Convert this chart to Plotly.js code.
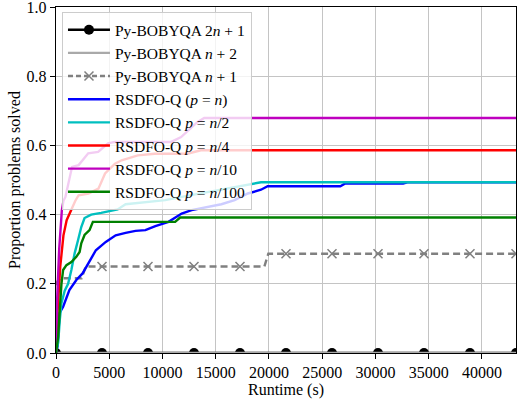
<!DOCTYPE html>
<html>
<head>
<meta charset="utf-8">
<script src="https://cdn.plot.ly/plotly-3.0.1.min.js"></script>
<style>html,body{margin:0;padding:0;background:#fff;}#chart{width:518px;height:403px;}</style>
</head>
<body>
<div id="chart"></div>
<script>
// ---- data ----
const xMax = 43200;
const markerX = [0, 4320, 8640, 12960, 17280, 21600, 25920, 30240, 34560, 38880, 43200];

const bob2n1X = [0, 43200];
const bob2n1Y = [0, 0];

const bobn2X = [0, 43200];
const bobn2Y = [0, 0];

const bobn1X = [0, 300, 2400, 2800, 19570, 19940, 43200];
const bobn1Y = [0.2, 0.216, 0.216, 0.25, 0.25, 0.287, 0.287];

const rsdfoNX = [0, 150, 326, 670, 1257, 1909, 2495, 3743, 4674, 5605, 6536, 7467, 8398, 9329, 10567, 11805, 12736, 13984, 15530, 16776, 18015, 19253, 19877, 26700, 27166, 32600, 33000, 43200];
const rsdfoNY = [0, 0.02, 0.115, 0.134, 0.182, 0.211, 0.23, 0.297, 0.321, 0.34, 0.347, 0.353, 0.355, 0.367, 0.379, 0.403, 0.413, 0.42, 0.43, 0.442, 0.461, 0.472, 0.482, 0.482, 0.49, 0.49, 0.4935, 0.4935];

const rsdfoN2X = [0, 205, 354, 512, 819, 1136, 1443, 1750, 2067, 2374, 2681, 3305, 4236, 5167, 5791, 6536, 8081, 10260, 12430, 15530, 18020, 19253, 43200];
const rsdfoN2Y = [0, 0.03, 0.095, 0.144, 0.18, 0.2, 0.24, 0.288, 0.326, 0.364, 0.39, 0.4, 0.405, 0.41, 0.415, 0.43, 0.435, 0.442, 0.455, 0.472, 0.486, 0.4935, 0.4935];

const rsdfoN4X = [0, 150, 400, 700, 1000, 1400, 1815, 2123, 3054, 3985, 4608, 5540, 6163, 7681, 9264, 12336, 13611, 43200];
const rsdfoN4Y = [0, 0.12, 0.25, 0.34, 0.384, 0.413, 0.44, 0.456, 0.461, 0.475, 0.519, 0.547, 0.557, 0.571, 0.576, 0.576, 0.586, 0.586];

const rsdfoN10X = [0, 100, 300, 550, 700, 884, 1508, 2123, 3026, 3957, 4888, 5540, 10818, 11750, 13267, 13919, 43200];
const rsdfoN10Y = [0, 0.15, 0.3, 0.413, 0.44, 0.451, 0.538, 0.543, 0.577, 0.581, 0.606, 0.61, 0.61, 0.624, 0.667, 0.679, 0.679];

const rsdfoN100X = [0, 205, 354, 512, 670, 980, 1443, 1909, 2216, 2374, 2681, 3150, 3463, 11190, 11656, 43200];
const rsdfoN100Y = [0, 0.047, 0.124, 0.2, 0.24, 0.254, 0.263, 0.278, 0.292, 0.317, 0.341, 0.355, 0.379, 0.379, 0.3916, 0.3916];

const seriesNames = [
  'Py-BOBYQA 2<i>n</i> + 1',
  'Py-BOBYQA <i>n</i> + 2',
  'Py-BOBYQA <i>n</i> + 1',
  'RSDFO-Q (<i>p</i> = <i>n</i>)',
  'RSDFO-Q <i>p</i> = <i>n</i>/2',
  'RSDFO-Q <i>p</i> = <i>n</i>/4',
  'RSDFO-Q <i>p</i> = <i>n</i>/10',
  'RSDFO-Q <i>p</i> = <i>n</i>/100'
];
const yTickVals = [0, 0.2, 0.4, 0.6, 0.8, 1.0];
const xTickVals = [0, 5000, 10000, 15000, 20000, 25000, 30000, 35000, 40000];

// value of a piecewise-linear series at x (for marker placement)
function interp(xs, ys, x) {
  for (let i = 1; i < xs.length; i++) {
    if (x <= xs[i]) {
      const t = (x - xs[i-1]) / (xs[i] - xs[i-1] || 1);
      return ys[i-1] + t * (ys[i] - ys[i-1]);
    }
  }
  return ys[ys.length - 1];
}

const FONT = 'Liberation Serif, DejaVu Serif, serif';
const LW = 2.4;

const traces = [
  {x: bob2n1X, y: bob2n1Y, mode: 'lines', line: {color: '#000000', width: LW}, name: seriesNames[0], legendgroup: 'a', showlegend: false},
  {x: markerX, y: markerX.map(v => interp(bob2n1X, bob2n1Y, v)), mode: 'markers', marker: {color: '#000000', size: 10, symbol: 'circle'}, name: seriesNames[0], legendgroup: 'a', showlegend: false},
  {x: [null], y: [null], mode: 'lines+markers', line: {color: '#000000', width: LW}, marker: {color: '#000000', size: 10}, name: seriesNames[0]},
  {x: bobn2X, y: bobn2Y, mode: 'lines', line: {color: '#a9a9a9', width: LW}, name: seriesNames[1]},
  {x: bobn1X, y: bobn1Y, mode: 'lines', line: {color: '#808080', width: LW, dash: '7px,4px'}, name: seriesNames[2], legendgroup: 'c', showlegend: false},
  {x: markerX, y: markerX.map(v => interp(bobn1X, bobn1Y, v)), mode: 'markers', marker: {color: '#808080', size: 9, symbol: 'x-thin-open', line: {color: '#808080', width: 1.5}}, name: seriesNames[2], legendgroup: 'c', showlegend: false},
  {x: [null], y: [null], mode: 'lines+markers', line: {color: '#808080', width: LW, dash: '5px,3px'}, marker: {color: '#808080', size: 9, symbol: 'x-thin-open', line: {color: '#808080', width: 1.5}}, name: seriesNames[2]},
  {x: rsdfoNX, y: rsdfoNY, mode: 'lines', line: {color: '#0000ff', width: LW}, name: seriesNames[3]},
  {x: rsdfoN2X, y: rsdfoN2Y, mode: 'lines', line: {color: '#00bfbf', width: LW}, name: seriesNames[4]},
  {x: rsdfoN4X, y: rsdfoN4Y, mode: 'lines', line: {color: '#ff0000', width: LW}, name: seriesNames[5]},
  {x: rsdfoN10X, y: rsdfoN10Y, mode: 'lines', line: {color: '#bf00bf', width: LW}, name: seriesNames[6]},
  {x: rsdfoN100X, y: rsdfoN100Y, mode: 'lines', line: {color: '#008000', width: LW}, name: seriesNames[7]}
];

const axisCommon = {
  showline: true, linecolor: '#000000', linewidth: 1.2, mirror: true,
  ticks: 'outside', ticklen: 5, tickwidth: 1, tickcolor: '#000000',
  showgrid: true, gridcolor: '#c4c4c4', gridwidth: 1,
  zeroline: false, ticklabeloverflow: 'allow',
  tickfont: {family: FONT, size: 16, color: '#000000'}
};

const layout = {
  width: 518, height: 403,
  margin: {l: 56, r: 2, t: 7, b: 50},
  paper_bgcolor: '#ffffff', plot_bgcolor: '#ffffff',
  font: {family: FONT, size: 16, color: '#000000'},
  showlegend: true,
  legend: {
    x: 0.013, y: 0.985, xanchor: 'left', yanchor: 'top',
    bgcolor: 'rgba(255,255,255,0.8)', bordercolor: '#cccccc', borderwidth: 1,
    font: {family: FONT, size: 15.5, color: '#000000'},
    traceorder: 'normal', tracegroupgap: 0, itemwidth: 42
  },
  xaxis: Object.assign({}, axisCommon, {
    range: [0, xMax], tickvals: xTickVals, ticktext: xTickVals.map(String),
    title: {text: 'Runtime (s)', font: {family: FONT, size: 16}, standoff: 1}
  }),
  yaxis: Object.assign({}, axisCommon, {
    range: [0, 1], tickvals: yTickVals, ticktext: yTickVals.map(v => v.toFixed(1)),
    title: {text: 'Proportion problems solved', font: {family: FONT, size: 16}, standoff: 2}
  })
};

Plotly.newPlot('chart', traces, layout, {displayModeBar: false, staticPlot: true});
</script>
</body>
</html>
